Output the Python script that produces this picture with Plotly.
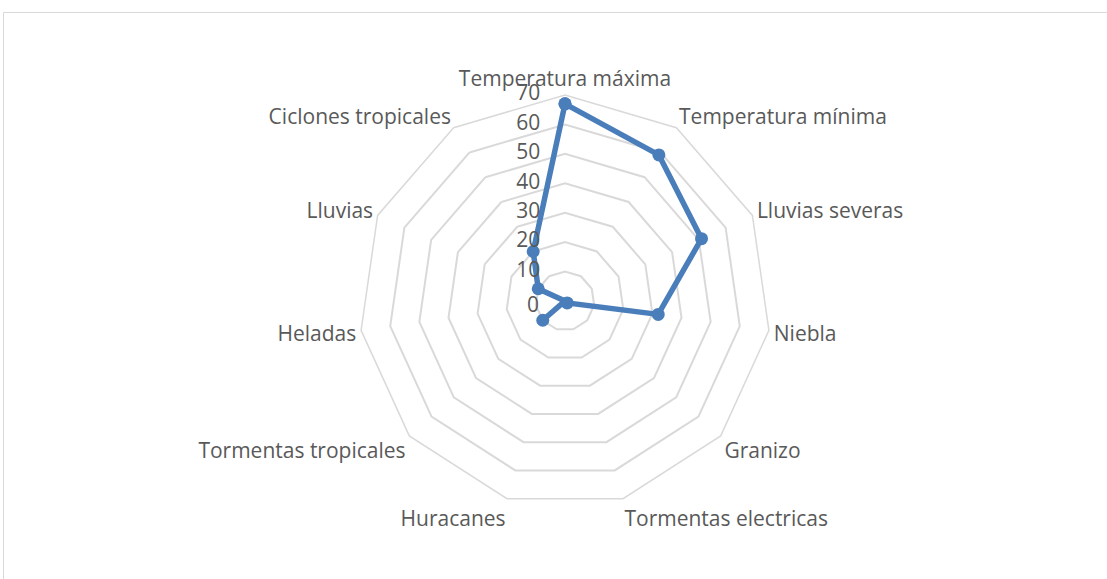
import plotly.graph_objects as go

# Riesgos climáticos: frecuencia por categoría
categorias = [
    "Temperatura máxima", "Temperatura mínima", "Lluvias severas", "Niebla",
    "Granizo", "Tormentas electricas", "Huracanes", "Tormentas tropicales",
    "Heladas", "Lluvias", "Ciclones tropicales",
]
valores = [67, 59, 51, 32, 1, 0, 0, 10, 0, 10, 20]
ticks_radiales = [0, 10, 20, 30, 40, 50, 60, 70]

W, H = 1107, 579
cx, cy, R = 565, 301, 206

azul = "#4a7ebb"
gris = "#d9d9d9"
texto = "#595959"
fuente = "Open Sans"

fig = go.Figure()
fig.add_trace(go.Scatterpolar(
    r=valores + valores[:1],
    theta=categorias + categorias[:1],
    mode="lines+markers",
    line=dict(color=azul, width=5.5),
    marker=dict(color=azul, size=13),
    showlegend=False,
    hoverinfo="skip",
))

# Etiquetas del eje radial (10-70), a la izquierda del eje vertical
fig.add_trace(go.Scatterpolar(
    r=ticks_radiales[1:],
    theta=[categorias[0]] * len(ticks_radiales[1:]),
    mode="markers+text",
    text=[str(v) for v in ticks_radiales[1:]],
    textposition="middle left",
    textfont=dict(family=fuente, size=21, color=texto),
    marker=dict(size=38, color="rgba(0,0,0,0)"),
    cliponaxis=False,
    showlegend=False,
    hoverinfo="skip",
))

fig.update_layout(
    width=W, height=H,
    margin=dict(l=0, r=0, t=0, b=0),
    paper_bgcolor="white",
    plot_bgcolor="white",
    font=dict(family=fuente, size=21, color=texto),
    polar=dict(
        domain=dict(
            x=[(cx - R) / W, (cx + R) / W],
            y=[1 - (cy + R) / H, 1 - (cy - R) / H],
        ),
        bgcolor="white",
        gridshape="linear",
        angularaxis=dict(
            direction="clockwise",
            rotation=90,
            showgrid=False,
            showline=True,
            linecolor=gris,
            linewidth=1.5,
            ticks="",
            tickfont=dict(family=fuente, size=21, color=texto),
        ),
        radialaxis=dict(
            range=[0, 70],
            tickvals=ticks_radiales,
            angle=90,
            showline=False,
            showticklabels=False,
            ticks="",
            gridcolor=gris,
            gridwidth=1.5,
        ),
    ),
    # La etiqueta "0" va en el centro del gráfico polar
    annotations=[
        dict(
            text=str(ticks_radiales[0]),
            xref="paper", yref="paper",
            x=(cx - 24) / W, y=1 - (cy + 3) / H,
            xanchor="right", yanchor="middle",
            showarrow=False,
            font=dict(family=fuente, size=21, color=texto),
        )
    ],
    shapes=[
        # Marco del área del gráfico
        dict(type="line", xref="paper", yref="paper",
             x0=3.5 / W, x1=1, y0=1 - 12.5 / H, y1=1 - 12.5 / H,
             line=dict(color=gris, width=1)),
        dict(type="line", xref="paper", yref="paper",
             x0=3.5 / W, x1=3.5 / W, y0=0, y1=1 - 12.5 / H,
             line=dict(color=gris, width=1)),
    ],
)

fig.write_html("out.html")
